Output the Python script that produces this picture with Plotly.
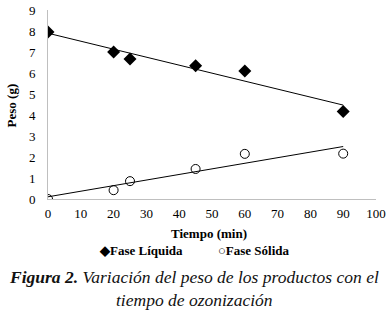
import numpy as np
import plotly.graph_objects as go

tiempo = [0, 20, 25, 45, 60, 90]
fase_liquida = [7.95, 7.0, 6.67, 6.35, 6.1, 4.17]
fase_solida = [0.0, 0.42, 0.85, 1.43, 2.15, 2.16]
x_ticks = [0, 10, 20, 30, 40, 50, 60, 70, 80, 90, 100]
y_ticks = [0, 1, 2, 3, 4, 5, 6, 7, 8, 9]
series_names = ["Fase Líquida", "Fase Sólida"]

FONT = "Liberation Serif"

def trend(x, y):
    m, b = np.polyfit(x, y, 1)
    xs = [min(x), max(x)]
    return xs, [m * v + b for v in xs]

fig = go.Figure()
for ys in (fase_liquida, fase_solida):
    tx, ty = trend(tiempo, ys)
    fig.add_trace(go.Scatter(x=tx, y=ty, mode="lines", line=dict(color="black", width=1),
                             showlegend=False, hoverinfo="skip"))

fig.add_trace(go.Scatter(x=tiempo, y=fase_liquida, mode="markers", name=series_names[0],
                         marker=dict(symbol="diamond", size=10, color="black")))
fig.add_trace(go.Scatter(x=tiempo, y=fase_solida, mode="markers", name=series_names[1],
                         marker=dict(symbol="circle-open", size=9, color="black", line=dict(width=1))))

fig.update_layout(
    width=387, height=317,
    margin=dict(l=48, r=11, t=10, b=117.5, autoexpand=False),
    paper_bgcolor="white", plot_bgcolor="white",
    font=dict(family=FONT, size=13, color="black"),
    xaxis=dict(range=[0, 100], tickvals=x_ticks, showgrid=False, zeroline=False,
               showline=True, linecolor="#bfbfbf", linewidth=1, ticks="",
               ticklabelstandoff=2,
               tickfont=dict(family=FONT, size=13), fixedrange=True, automargin=False),
    yaxis=dict(range=[0, 9], tickvals=y_ticks, showgrid=False, zeroline=False,
               showline=True, linecolor="#bfbfbf", linewidth=1, ticks="",
               ticklabelstandoff=9,
               tickfont=dict(family=FONT, size=13), fixedrange=True, automargin=False),
    showlegend=False,
)

fig.add_annotation(text="<b>Tiempo (min)</b>", xref="paper", yref="paper",
                   x=0.49, y=-0.185, xanchor="center", yanchor="middle", showarrow=False,
                   font=dict(family=FONT, size=13))
fig.add_annotation(text="<b>Peso (g)</b>", xref="paper", yref="paper",
                   x=-0.111, y=0.493, xanchor="center", yanchor="middle", showarrow=False,
                   textangle=-90, font=dict(family=FONT, size=13))
fig.add_annotation(text="<b>◆" + series_names[0] + "</b>", xref="paper", yref="paper",
                   x=0.148, y=-0.27, xanchor="left", yanchor="middle", showarrow=False,
                   font=dict(family=FONT, size=13))
fig.add_annotation(text="<b>○" + series_names[1] + "</b>", xref="paper", yref="paper",
                   x=0.511, y=-0.27, xanchor="left", yanchor="middle", showarrow=False,
                   font=dict(family=FONT, size=13))
fig.add_annotation(text="<b><i>Figura 2.</i></b><i> Variación del peso de los productos con el</i>",
                   xref="paper", yref="paper", x=0.444, y=-0.415, xanchor="center", yanchor="middle",
                   showarrow=False, font=dict(family=FONT, size=17.5, color="#111111"))
fig.add_annotation(text="<i>tiempo de ozonización</i>",
                   xref="paper", yref="paper", x=0.448, y=-0.535, xanchor="center", yanchor="middle",
                   showarrow=False, font=dict(family=FONT, size=17.5, color="#111111"))

fig.write_html("out.html", config={"displayModeBar": False},
               post_script="document.body.style.margin='0px';")
